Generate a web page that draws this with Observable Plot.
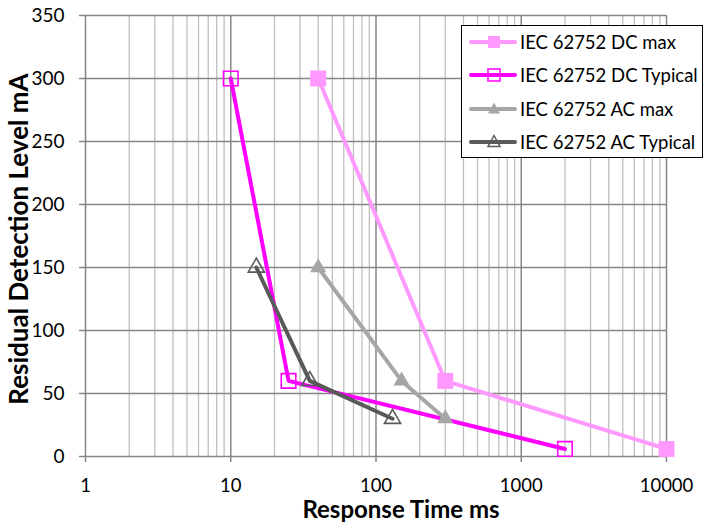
<!DOCTYPE html>
<html>
<head>
<meta charset="utf-8">
<script src="https://cdn.jsdelivr.net/npm/d3@7"></script>
<script src="https://cdn.jsdelivr.net/npm/@observablehq/plot@0.6"></script>
<style>
  html, body { margin: 0; padding: 0; background: #fff; }
  #wrap { position: relative; width: 707px; height: 531px; font-family: Lato, "Open Sans", sans-serif; }
  #legend { position: absolute; left: 461px; top: 25px; width: 242px; height: 133px; border: 1.5px solid #000; background: #fff; box-sizing: border-box; }
  .item { position: absolute; left: 7px; height: 24px; display: flex; align-items: center; font-size: 18.5px; color: #000; white-space: nowrap; }
  .item svg { margin-right: 3px; }
</style>
</head>
<body>
<div id="wrap"></div>
<script>
// ---- data ----
const dcMaxX = [40, 300, 10000];
const dcMaxY = [300, 60, 6];
const dcTypX = [10, 25, 2000];
const dcTypY = [300, 60, 6];
const acMaxX = [40, 150, 300];
const acMaxY = [150, 60, 30];
const acTypX = [15, 35, 130];
const acTypY = [150, 60, 30];

const seriesNames = ["IEC 62752 DC max", "IEC 62752 DC Typical", "IEC 62752 AC max", "IEC 62752 AC Typical"];
const seriesColors = ["#FF99FF", "#FF00FF", "#A6A6A6", "#595959"];
const seriesSymbols = ["square", "square", "triangle", "triangle"];
const seriesFilled = [true, false, true, false];

const xTickValues = [1, 10, 100, 1000, 10000];
const yTickValues = [0, 50, 100, 150, 200, 250, 300, 350];
const xTitle = "Response Time ms";
const yTitle = "Residual Detection Level mA";

// build
const allX = [dcMaxX, dcTypX, acMaxX, acTypX];
const allY = [dcMaxY, dcTypY, acMaxY, acTypY];
const rows = [];
seriesNames.forEach((s, i) => allX[i].forEach((x, j) => rows.push({series: s, idx: i, x, y: allY[i][j]})));

const minorX = [];
for (let d = 1; d < 10000; d *= 10) for (let k = 2; k <= 9; k++) minorX.push(d * k);

const marks = [
  Plot.ruleX(minorX, {stroke: "#BFBFBF", strokeWidth: 1.3}),
  Plot.ruleX(xTickValues, {stroke: "#868686", strokeWidth: 1.5}),
  Plot.ruleY(yTickValues, {stroke: "#868686", strokeWidth: 1.5}),
  Plot.axisX(xTickValues, {tickSize: 6, tickPadding: 16, stroke: "#868686", strokeWidth: 1.5, fontSize: 18.5, label: null, tickFormat: d => String(d)}),
  Plot.axisY(yTickValues, {tickSize: 6, tickPadding: 15, stroke: "#868686", strokeWidth: 1.5, fontSize: 19, label: null})
];
seriesNames.forEach((s, i) => {
  const d = rows.filter(r => r.idx === i);
  marks.push(Plot.line(d, {x: "x", y: "y", stroke: seriesColors[i], strokeWidth: 4}));
});
seriesNames.forEach((s, i) => {
  const d = rows.filter(r => r.idx === i);
  const sq = seriesSymbols[i] === "square";
  marks.push(Plot.dot(d, {
    x: "x", y: "y", symbol: seriesSymbols[i],
    r: sq ? (seriesFilled[i] ? 9 : 8.2) : 6,
    fill: seriesFilled[i] ? seriesColors[i] : "none",
    stroke: seriesFilled[i] ? "none" : seriesColors[i],
    strokeWidth: 1.6
  }));
});
marks.push(Plot.text([xTitle], {frameAnchor: "bottom", dx: 25, dy: 61, fontSize: 24, fontWeight: "bold", text: d => d}));
marks.push(Plot.text([yTitle], {frameAnchor: "left", rotate: -90, dx: -66, dy: 3, textAnchor: "middle", fontSize: 26, fontWeight: "bold", text: d => d}));

const chart = Plot.plot({
  width: 707, height: 531,
  marginLeft: 85, marginRight: 41, marginTop: 15, marginBottom: 75,
  style: {fontFamily: "Lato, 'Open Sans', sans-serif", color: "#000", background: "#fff"},
  x: {type: "log", domain: [1, 10000]},
  y: {domain: [0, 350]},
  marks
});
const wrap = document.getElementById("wrap");
wrap.appendChild(chart);

// legend
const lg = document.createElement("div");
lg.id = "legend";
seriesNames.forEach((s, i) => {
  const it = document.createElement("div");
  it.className = "item";
  it.style.top = (3.5 + i * 33.5) + "px";
  const sq = seriesSymbols[i] === "square";
  const col = seriesColors[i];
  const fill = seriesFilled[i] ? col : "none";
  const stroke = seriesFilled[i] ? "none" : col;
  let sym;
  if (sq) sym = `<rect x="${25 - 6}" y="${12 - 6}" width="12" height="12" fill="${fill}" stroke="${stroke}" stroke-width="1.5"/>`;
  else sym = `<path d="M25,5.5 L31,16.5 L19,16.5 Z" fill="${fill}" stroke="${stroke}" stroke-width="1.5"/>`;
  it.innerHTML = `<svg width="48" height="24"><line x1="2" x2="46" y1="12" y2="12" stroke="${col}" stroke-width="4" stroke-linecap="round"/>${sym}</svg><span>${s}</span>`;
  lg.appendChild(it);
});
wrap.appendChild(lg);
</script>
</body>
</html>
